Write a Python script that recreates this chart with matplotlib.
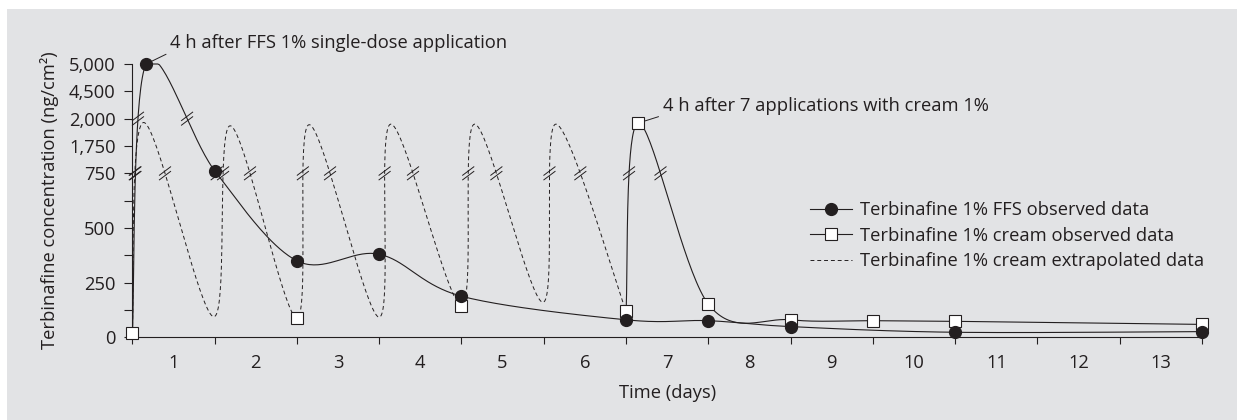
import numpy as np
import matplotlib
matplotlib.use("Agg")
import matplotlib.pyplot as plt
from matplotlib.patches import Rectangle
from matplotlib.lines import Line2D

# ---------- data ----------
days_ffs = [0.167, 1, 2, 3, 4, 6, 7, 8, 10, 13]
conc_ffs = [5000, 850, 350, 380, 188, 80, 76, 49, 23, 26]
ffs_start_day = 0
ffs_start_conc = 0

days_cream = [0, 2, 4, 6, 6.15, 7, 8, 9, 10, 13]
conc_cream = [20, 88, 145, 120, 1960, 152, 80, 76, 73, 59]

days_extra = [0, 0.135, 0.99, 1.19, 2, 2.15, 3, 3.14, 4, 4.16, 4.99, 5.15, 6]
conc_extra = [20, 1965, 94, 1935, 88, 1945, 92, 1950, 145, 1950, 160, 1950, 120]

# broken y axis: value -> evenly spaced position
y_knots = [0, 750, 1750, 2000, 4500, 5000]
y_pos = [0, 6, 7, 8, 9, 10]
ytick_vals = [0, 250, 500, 750, 1750, 2000, 4500, 5000]
yminor_vals = [125, 375, 625]
break_levels = [750, 2000]
day_labels = [str(d) for d in range(1, 14)]

ink = "#231f20"
bg = "#e2e3e5"
FS = 13.2
plt.rcParams["font.family"] = ["Open Sans", "DejaVu Sans"]
plt.rcParams["text.color"] = ink


def fwd(v):
    return np.interp(v, y_knots, y_pos)


def inv(p):
    return np.interp(p, y_pos, y_knots)


W, H = 1237, 420
fig = plt.figure(figsize=(W / 100, H / 100), dpi=100)
fig.add_artist(Rectangle((7 / W, 0), 1 - 7 / W, 1 - 9 / H, transform=fig.transFigure,
                         facecolor=bg, edgecolor="none", zorder=0))

x0, x1 = 132.3, 1202.0
ytop, ybot = 64.0, 337.3
ax = fig.add_axes([x0 / W, 1 - ybot / H, (x1 - x0) / W, (ybot - ytop) / H])
ax.patch.set_visible(False)
ax.set_yscale("function", functions=(fwd, inv))
ax.set_xlim(0, 13)
ax.set_ylim(0, 5000)


## smooth line (excel-like bezier) computed in pixel space
def smooth(xs, ys, n=40):
    P = ax.transData.transform(np.column_stack([xs, ys]))
    ext = np.vstack([P[:1], P, P[-1:]])
    t = np.linspace(0, 1, n)[:, None]
    out = []
    for i in range(len(P) - 1):
        p0, p3 = P[i], P[i + 1]
        c1 = p0 + (ext[i + 2] - ext[i]) / 6
        c2 = p3 - (ext[i + 3] - ext[i + 1]) / 6
        seg = (1 - t) ** 3 * p0 + 3 * (1 - t) ** 2 * t * c1 + 3 * (1 - t) * t ** 2 * c2 + t ** 3 * p3
        out.append(seg if i == 0 else seg[1:])
    return np.vstack(out)


def to_data(pix):
    return ax.transData.inverted().transform(pix)


def draw_breaks(pix):
    ang = np.deg2rad(37)
    d = np.array([np.cos(ang), np.sin(ang)]) * 7
    off = np.array([0, 2.3])
    for lvl in break_levels:
        ly = ax.transData.transform((0, lvl))[1]
        s = pix[:, 1] - ly
        idx = np.where(s[:-1] * s[1:] < 0)[0]
        for k in idx:
            f = s[k] / (s[k] - s[k + 1])
            cx = pix[k, 0] + f * (pix[k + 1, 0] - pix[k, 0])
            c = np.array([cx, ly])
            for o in (off, -off):
                seg = to_data(np.array([c + o - d, c + o + d]))
                ax.plot(seg[:, 0], seg[:, 1], color=ink, lw=0.7, zorder=6, clip_on=False)


## FFS curve
ffs_pix = smooth([ffs_start_day] + days_ffs, [ffs_start_conc] + conc_ffs)
ffs_line = to_data(ffs_pix)
ax.plot(ffs_line[:, 0], ffs_line[:, 1], color=ink, lw=0.8, zorder=3, clip_on=False)
draw_breaks(ffs_pix)

## cream observed curve (from day 6 on)
cr_pix = smooth(days_cream[3:], conc_cream[3:])
cr_line = to_data(cr_pix)
ax.plot(cr_line[:, 0], cr_line[:, 1], color=ink, lw=0.8, zorder=3, clip_on=False)
draw_breaks(cr_pix)

## cream extrapolated curve
ex_pix = smooth(days_extra, conc_extra)
ex_line = to_data(ex_pix)
ax.plot(ex_line[:, 0], ex_line[:, 1], color=ink, lw=0.7, dashes=(4, 3), zorder=2, clip_on=False)
draw_breaks(ex_pix)

ax.plot(days_cream, conc_cream, "s", ms=8, mfc="white", mec=ink, mew=0.8, zorder=4, clip_on=False)
ax.plot(days_ffs, conc_ffs, "o", ms=8.5, color=ink, zorder=5, clip_on=False)

## axes / ticks
for sp in ("top", "right"):
    ax.spines[sp].set_visible(False)
for sp in ("left", "bottom"):
    ax.spines[sp].set_color(ink)
    ax.spines[sp].set_linewidth(0.8)

ax.set_yticks(ytick_vals)
ax.set_yticklabels([f"{v:,}" for v in ytick_vals])
ax.set_yticks(yminor_vals, minor=True)
ax.set_xticks(range(14))
ax.set_xticklabels([])
ax.set_xticks(np.arange(0.5, 13, 1), minor=True)
ax.set_xticklabels(day_labels, minor=True)
ax.tick_params(axis="y", which="both", direction="out", length=6, width=0.8,
               color=ink, labelcolor=ink, labelsize=FS, pad=6)
ax.tick_params(axis="x", which="major", direction="out", length=5, width=0.8, color=ink)
ax.tick_params(axis="x", which="minor", length=0, pad=12, labelsize=FS, labelcolor=ink)

fig.text(50 / W, 1 - 200 / H, "Terbinafine concentration (ng/cm²)", rotation=90,
         ha="center", va="center", fontsize=FS)
fig.text((x0 + x1) / 2 / W, 1 - 393 / H, "Time (days)", ha="center", va="center", fontsize=FS)

## annotations
ax.annotate("4 h after FFS 1% single-dose application", xy=(days_ffs[0], conc_ffs[0]),
            xytext=(17.3, 11.3), textcoords="offset points", ha="left", va="baseline", fontsize=FS,
            arrowprops=dict(arrowstyle="-", color=ink, lw=0.7, relpos=(0, 0), shrinkA=1, shrinkB=5))
ax.annotate("4 h after 7 applications with cream 1%", xy=(days_cream[4], conc_cream[4]),
            xytext=(17.5, 8.4), textcoords="offset points", ha="left", va="baseline", fontsize=FS,
            arrowprops=dict(arrowstyle="-", color=ink, lw=0.7, relpos=(0, 0), shrinkA=1, shrinkB=5))

## legend
handles = [
    Line2D([], [], color=ink, lw=0.8, marker="o", ms=8.5),
    Line2D([], [], color=ink, lw=0.8, marker="s", ms=8, mfc="white", mec=ink, mew=0.8),
    Line2D([], [], color=ink, lw=0.7, dashes=(4, 3)),
]
labels = ["Terbinafine 1% FFS observed data", "Terbinafine 1% cream observed data",
          "Terbinafine 1% cream extrapolated data"]
fig.legend(handles, labels, loc="upper left", bbox_to_anchor=(810 / W, 1 - 201 / H),
           frameon=False, fontsize=FS, handlelength=2.3, handletextpad=0.45,
           labelspacing=0.42, borderpad=0, borderaxespad=0)

fig.savefig("out.png", dpi=100, facecolor="white")
